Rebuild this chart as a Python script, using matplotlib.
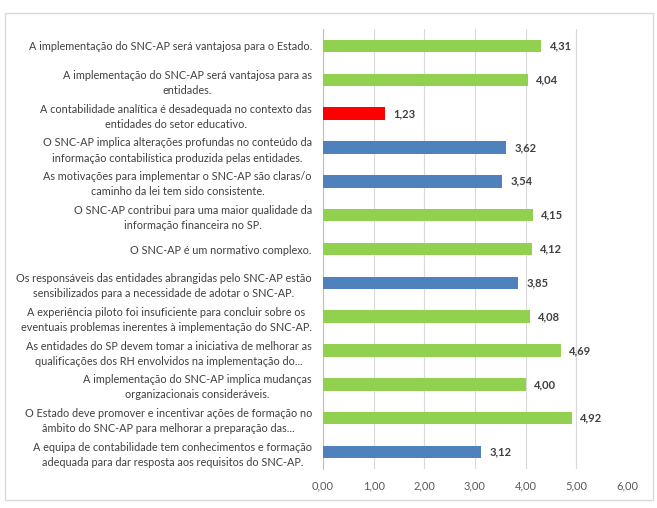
import matplotlib.pyplot as plt
from matplotlib.patches import Rectangle

plt.rcParams['font.family'] = ['Lato', 'DejaVu Sans']

labels = [
    "A implementação do SNC-AP será vantajosa para o Estado.",
    "A implementação do SNC-AP será vantajosa para as\nentidades.",
    "A contabilidade analítica é desadequada no contexto das\nentidades do setor educativo.",
    "O SNC-AP implica alterações profundas no conteúdo da\ninformação contabilística produzida pelas entidades.",
    "As motivações para implementar o SNC-AP são claras/o\ncaminho da lei tem sido consistente.",
    "O SNC-AP contribui para uma maior qualidade da\ninformação financeira no SP.",
    "O SNC-AP é um normativo complexo.",
    "Os responsáveis das entidades abrangidas pelo SNC-AP estão\nsensibilizados para a necessidade de adotar o SNC-AP.",
    "A experiência piloto foi insuficiente para concluir sobre os\neventuais problemas inerentes à implementação do SNC-AP.",
    "As entidades do SP devem tomar a iniciativa de melhorar as\nqualificações dos RH envolvidos na implementação do...",
    "A implementação do SNC-AP implica mudanças\norganizacionais consideráveis.",
    "O Estado deve promover e incentivar ações de formação no\nâmbito do SNC-AP para melhorar a preparação das...",
    "A equipa de contabilidade tem conhecimentos e formação\nadequada para dar resposta aos requisitos do SNC-AP.",
]
values = [4.31, 4.04, 1.23, 3.62, 3.54, 4.15, 4.12, 3.85, 4.08, 4.69, 4.00, 4.92, 3.12]
groups = ["g", "g", "r", "b", "b", "g", "g", "b", "g", "g", "g", "g", "b"]
colors = {"g": "#92D050", "b": "#4F81BD", "r": "#FF0000"}
xticks = [0, 1, 2, 3, 4, 5, 6]

fig = plt.figure(figsize=(6.57, 5.08), dpi=100)
fig.patches.append(Rectangle((5 / 657, 8 / 508), 648 / 657, 487 / 508,
                             transform=fig.transFigure, fill=False,
                             edgecolor="#D9D9D9", linewidth=1))
ax = fig.add_axes([323 / 657, 39 / 508, 304 / 657, 440 / 508])

n = len(values)
ypos = [n - 1 - i for i in range(n)]
ax.barh(ypos, values, height=0.37, color=[colors[g] for g in groups], zorder=3)

for y, v in zip(ypos, values):
    ax.text(v + 0.16, y, f"{v:.2f}".replace(".", ","), va="center", ha="left",
            fontsize=8, fontweight="bold", color="#404040")

ax.set_xlim(0, 6)
ax.set_ylim(-0.5, n - 0.5)
ax.set_xticks(xticks)
ax.set_xticklabels([f"{t:.2f}".replace(".", ",") for t in xticks],
                   fontsize=8, color="#595959")
ax.set_yticks(ypos)
ax.set_yticklabels(labels, fontsize=7.85, color="#404040", ha="right",
                   multialignment="center", linespacing=1.45)
ax.tick_params(axis="y", length=0, pad=8)
ax.tick_params(axis="x", length=0, pad=8)
ax.grid(axis="x", color="#D9D9D9", linewidth=0.8, zorder=0)
for s in ["top", "right", "bottom"]:
    ax.spines[s].set_visible(False)
ax.spines["left"].set_color("#BFBFBF")

fig.savefig("out.png", dpi=100)
